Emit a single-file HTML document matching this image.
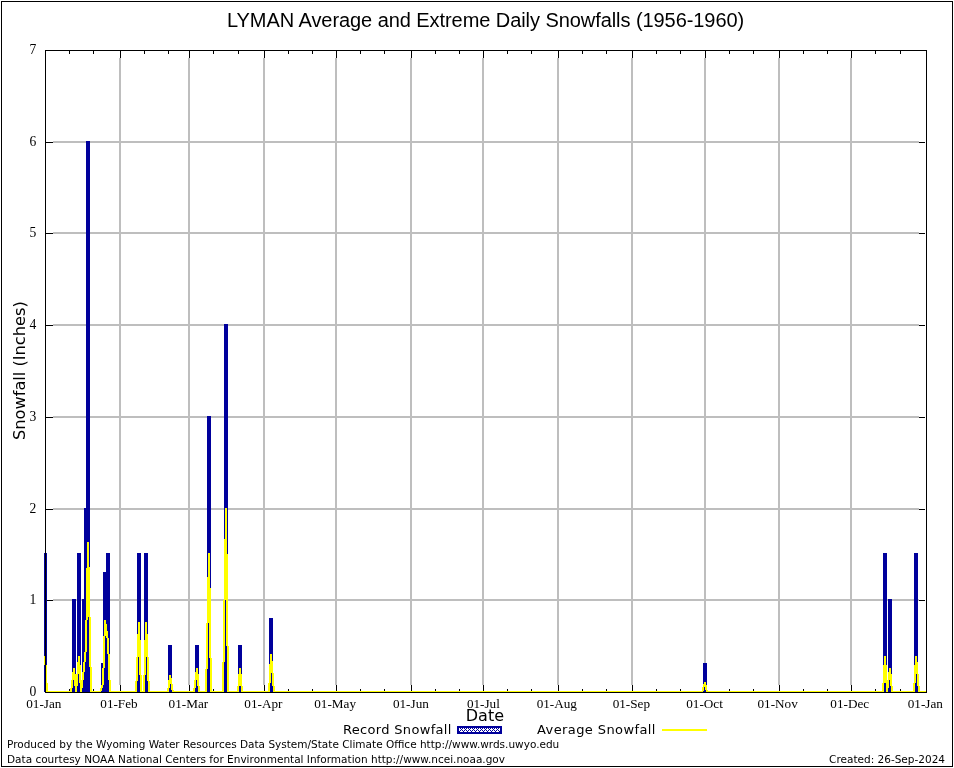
<!DOCTYPE html><html><head><meta charset="utf-8"><title>LYMAN Average and Extreme Daily Snowfalls (1956-1960)</title><style>html,body{margin:0;padding:0;background:#fff;width:954px;height:768px;overflow:hidden}svg{display:block;will-change:transform}.s{font-family:"Liberation Serif",serif}.d{font-family:"DejaVu Sans",sans-serif}</style></head><body>
<svg width="954" height="768" viewBox="0 0 954 768">
<defs><pattern id="hatch" x="1" y="1" width="4" height="4" patternUnits="userSpaceOnUse"><rect x="0" y="0" width="1" height="1" fill="#00009c"/><rect x="1" y="1" width="1" height="1" fill="#00009c"/><rect x="3" y="1" width="1" height="1" fill="#00009c"/><rect x="2" y="2" width="1" height="1" fill="#00009c"/><rect x="1" y="3" width="1" height="1" fill="#00009c"/><rect x="3" y="3" width="1" height="1" fill="#00009c"/></pattern></defs>
<rect x="0" y="0" width="954" height="768" fill="#fff"/>
<g shape-rendering="crispEdges">
<rect x="1.5" y="1.5" width="951" height="765" fill="none" stroke="#000" stroke-width="1"/>
<g fill="#bebebe"><rect x="119" y="58" width="2" height="627"/><rect x="188" y="58" width="2" height="627"/><rect x="263" y="58" width="2" height="627"/><rect x="335" y="58" width="2" height="627"/><rect x="410" y="58" width="2" height="627"/><rect x="482" y="58" width="2" height="627"/><rect x="557" y="58" width="2" height="627"/><rect x="631" y="58" width="2" height="627"/><rect x="704" y="58" width="2" height="627"/><rect x="778" y="58" width="2" height="627"/><rect x="850" y="58" width="2" height="627"/><rect x="53" y="599" width="866" height="2"/><rect x="53" y="508" width="866" height="2"/><rect x="53" y="416" width="866" height="2"/><rect x="53" y="324" width="866" height="2"/><rect x="53" y="232" width="866" height="2"/><rect x="53" y="141" width="866" height="2"/></g>
<g fill="#000"><rect x="45" y="692" width="8" height="1"/><rect x="919" y="692" width="6" height="1"/><rect x="45" y="600" width="8" height="1"/><rect x="919" y="600" width="6" height="1"/><rect x="45" y="509" width="8" height="1"/><rect x="919" y="509" width="6" height="1"/><rect x="45" y="417" width="8" height="1"/><rect x="919" y="417" width="6" height="1"/><rect x="45" y="325" width="8" height="1"/><rect x="919" y="325" width="6" height="1"/><rect x="45" y="233" width="8" height="1"/><rect x="919" y="233" width="6" height="1"/><rect x="45" y="142" width="8" height="1"/><rect x="919" y="142" width="6" height="1"/><rect x="45" y="50" width="8" height="1"/><rect x="919" y="50" width="6" height="1"/><rect x="45" y="685" width="1" height="8"/><rect x="45" y="50" width="1" height="8"/><rect x="69" y="689" width="1" height="4"/><rect x="69" y="50" width="1" height="4"/><rect x="93" y="689" width="1" height="4"/><rect x="93" y="50" width="1" height="4"/><rect x="120" y="685" width="1" height="8"/><rect x="120" y="50" width="1" height="8"/><rect x="144" y="689" width="1" height="4"/><rect x="144" y="50" width="1" height="4"/><rect x="168" y="689" width="1" height="4"/><rect x="168" y="50" width="1" height="4"/><rect x="189" y="685" width="1" height="8"/><rect x="189" y="50" width="1" height="8"/><rect x="213" y="689" width="1" height="4"/><rect x="213" y="50" width="1" height="4"/><rect x="238" y="689" width="1" height="4"/><rect x="238" y="50" width="1" height="4"/><rect x="264" y="685" width="1" height="8"/><rect x="264" y="50" width="1" height="8"/><rect x="288" y="689" width="1" height="4"/><rect x="288" y="50" width="1" height="4"/><rect x="312" y="689" width="1" height="4"/><rect x="312" y="50" width="1" height="4"/><rect x="336" y="685" width="1" height="8"/><rect x="336" y="50" width="1" height="8"/><rect x="360" y="689" width="1" height="4"/><rect x="360" y="50" width="1" height="4"/><rect x="384" y="689" width="1" height="4"/><rect x="384" y="50" width="1" height="4"/><rect x="411" y="685" width="1" height="8"/><rect x="411" y="50" width="1" height="8"/><rect x="435" y="689" width="1" height="4"/><rect x="435" y="50" width="1" height="4"/><rect x="459" y="689" width="1" height="4"/><rect x="459" y="50" width="1" height="4"/><rect x="483" y="685" width="1" height="8"/><rect x="483" y="50" width="1" height="8"/><rect x="507" y="689" width="1" height="4"/><rect x="507" y="50" width="1" height="4"/><rect x="531" y="689" width="1" height="4"/><rect x="531" y="50" width="1" height="4"/><rect x="558" y="685" width="1" height="8"/><rect x="558" y="50" width="1" height="8"/><rect x="582" y="689" width="1" height="4"/><rect x="582" y="50" width="1" height="4"/><rect x="606" y="689" width="1" height="4"/><rect x="606" y="50" width="1" height="4"/><rect x="632" y="685" width="1" height="8"/><rect x="632" y="50" width="1" height="8"/><rect x="656" y="689" width="1" height="4"/><rect x="656" y="50" width="1" height="4"/><rect x="680" y="689" width="1" height="4"/><rect x="680" y="50" width="1" height="4"/><rect x="705" y="685" width="1" height="8"/><rect x="705" y="50" width="1" height="8"/><rect x="729" y="689" width="1" height="4"/><rect x="729" y="50" width="1" height="4"/><rect x="753" y="689" width="1" height="4"/><rect x="753" y="50" width="1" height="4"/><rect x="779" y="685" width="1" height="8"/><rect x="779" y="50" width="1" height="8"/><rect x="803" y="689" width="1" height="4"/><rect x="803" y="50" width="1" height="4"/><rect x="827" y="689" width="1" height="4"/><rect x="827" y="50" width="1" height="4"/><rect x="851" y="685" width="1" height="8"/><rect x="851" y="50" width="1" height="8"/><rect x="875" y="689" width="1" height="4"/><rect x="875" y="50" width="1" height="4"/><rect x="900" y="689" width="1" height="4"/><rect x="900" y="50" width="1" height="4"/><rect x="926" y="685" width="1" height="8"/><rect x="926" y="50" width="1" height="8"/></g>
<g fill="#00009c"><rect x="44" y="553" width="3" height="139"/><rect x="72" y="599" width="4" height="93"/><rect x="77" y="553" width="4" height="139"/><rect x="82" y="599" width="4" height="93"/><rect x="84" y="508" width="4" height="184"/><rect x="86" y="141" width="4" height="551"/><rect x="101" y="663" width="4" height="29"/><rect x="103" y="572" width="4" height="120"/><rect x="106" y="553" width="4" height="139"/><rect x="137" y="553" width="4" height="139"/><rect x="144" y="553" width="4" height="139"/><rect x="168" y="645" width="4" height="47"/><rect x="195" y="645" width="4" height="47"/><rect x="207" y="416" width="4" height="276"/><rect x="224" y="324" width="4" height="368"/><rect x="238" y="645" width="4" height="47"/><rect x="269" y="618" width="4" height="74"/><rect x="703" y="663" width="4" height="29"/><rect x="883" y="553" width="4" height="139"/><rect x="888" y="599" width="4" height="93"/><rect x="914" y="553" width="4" height="139"/></g>
<g fill="#ffff00"><rect x="225" y="508" width="2" height="31"/><rect x="224" y="539" width="3" height="15"/><rect x="87" y="542" width="2" height="25"/><rect x="87" y="567" width="3" height="1"/><rect x="208" y="553" width="2" height="24"/><rect x="207" y="577" width="3" height="11"/><rect x="224" y="554" width="4" height="46"/><rect x="86" y="568" width="4" height="49"/><rect x="86" y="617" width="2" height="3"/><rect x="207" y="588" width="4" height="35"/><rect x="104" y="620" width="2" height="4"/><rect x="104" y="624" width="3" height="7"/><rect x="145" y="622" width="2" height="12"/><rect x="138" y="622" width="2" height="12"/><rect x="104" y="631" width="4" height="5"/><rect x="106" y="636" width="2" height="2"/><rect x="145" y="634" width="3" height="6"/><rect x="137" y="634" width="3" height="6"/><rect x="226" y="600" width="2" height="46"/><rect x="85" y="620" width="2" height="32"/><rect x="107" y="638" width="2" height="16"/><rect x="144" y="640" width="4" height="17"/><rect x="137" y="640" width="4" height="17"/><rect x="209" y="623" width="2" height="35"/><rect x="270" y="654" width="2" height="7"/><rect x="223" y="600" width="2" height="62"/><rect x="84" y="652" width="2" height="10"/><rect x="78" y="656" width="2" height="6"/><rect x="915" y="656" width="2" height="6"/><rect x="270" y="661" width="3" height="3"/><rect x="44" y="656" width="2" height="9"/><rect x="884" y="656" width="2" height="9"/><rect x="915" y="662" width="3" height="3"/><rect x="77" y="662" width="3" height="3"/><rect x="89" y="617" width="2" height="50"/><rect x="103" y="636" width="2" height="32"/><rect x="206" y="623" width="2" height="46"/><rect x="83" y="662" width="2" height="10"/><rect x="73" y="668" width="2" height="4"/><rect x="889" y="668" width="2" height="4"/><rect x="196" y="668" width="2" height="4"/><rect x="269" y="664" width="4" height="9"/><rect x="77" y="665" width="4" height="9"/><rect x="914" y="665" width="4" height="9"/><rect x="239" y="668" width="2" height="6"/><rect x="195" y="672" width="3" height="2"/><rect x="888" y="672" width="3" height="2"/><rect x="72" y="672" width="3" height="2"/><rect x="139" y="657" width="2" height="18"/><rect x="144" y="657" width="2" height="18"/><rect x="169" y="675" width="2" height="3"/><rect x="108" y="654" width="2" height="26"/><rect x="883" y="665" width="4" height="15"/><rect x="82" y="672" width="2" height="8"/><rect x="79" y="674" width="2" height="6"/><rect x="72" y="674" width="6" height="6"/><rect x="195" y="674" width="4" height="6"/><rect x="888" y="674" width="4" height="6"/><rect x="169" y="678" width="3" height="2"/><rect x="147" y="657" width="2" height="24"/><rect x="136" y="657" width="2" height="24"/><rect x="45" y="665" width="2" height="18"/><rect x="269" y="673" width="2" height="10"/><rect x="914" y="674" width="2" height="9"/><rect x="883" y="680" width="6" height="3"/><rect x="79" y="680" width="4" height="3"/><rect x="168" y="680" width="4" height="4"/><rect x="704" y="682" width="2" height="2"/><rect x="102" y="668" width="2" height="17"/><rect x="703" y="684" width="3" height="1"/><rect x="272" y="673" width="2" height="13"/><rect x="238" y="674" width="4" height="12"/><rect x="917" y="674" width="2" height="12"/><rect x="890" y="680" width="2" height="6"/><rect x="74" y="680" width="4" height="6"/><rect x="197" y="680" width="2" height="6"/><rect x="703" y="685" width="4" height="2"/><rect x="194" y="680" width="2" height="8"/><rect x="71" y="680" width="2" height="8"/><rect x="80" y="683" width="3" height="5"/><rect x="886" y="683" width="3" height="5"/><rect x="168" y="684" width="2" height="4"/><rect x="101" y="685" width="2" height="3"/><rect x="171" y="684" width="2" height="6"/><rect x="705" y="687" width="2" height="3"/><rect x="227" y="646" width="2" height="45"/><rect x="210" y="658" width="2" height="33"/><rect x="222" y="662" width="2" height="29"/><rect x="90" y="667" width="2" height="24"/><rect x="205" y="669" width="2" height="22"/><rect x="143" y="675" width="2" height="16"/><rect x="140" y="675" width="2" height="16"/><rect x="109" y="680" width="2" height="11"/><rect x="148" y="681" width="2" height="10"/><rect x="135" y="681" width="2" height="10"/><rect x="46" y="683" width="2" height="8"/><rect x="882" y="683" width="2" height="8"/><rect x="268" y="683" width="2" height="8"/><rect x="913" y="683" width="2" height="8"/><rect x="891" y="686" width="2" height="5"/><rect x="918" y="686" width="2" height="5"/><rect x="198" y="686" width="2" height="5"/><rect x="273" y="686" width="2" height="5"/><rect x="241" y="686" width="2" height="5"/><rect x="237" y="686" width="2" height="5"/><rect x="702" y="687" width="2" height="4"/><rect x="193" y="688" width="2" height="3"/><rect x="167" y="688" width="2" height="3"/><rect x="70" y="688" width="2" height="3"/><rect x="100" y="688" width="2" height="3"/><rect x="172" y="690" width="2" height="1"/><rect x="706" y="690" width="2" height="1"/><rect x="75" y="686" width="2" height="7"/><rect x="886" y="688" width="2" height="5"/><rect x="80" y="688" width="2" height="5"/><rect x="706" y="691" width="178" height="2"/><rect x="148" y="691" width="21" height="2"/><rect x="46" y="691" width="26" height="2"/><rect x="241" y="691" width="29" height="2"/><rect x="140" y="691" width="5" height="2"/><rect x="227" y="691" width="12" height="2"/><rect x="109" y="691" width="28" height="2"/><rect x="172" y="691" width="23" height="2"/><rect x="210" y="691" width="14" height="2"/><rect x="891" y="691" width="24" height="2"/><rect x="918" y="691" width="9" height="2"/><rect x="273" y="691" width="430" height="2"/><rect x="198" y="691" width="9" height="2"/><rect x="90" y="691" width="11" height="2"/></g>
<rect x="45.5" y="50.5" width="881" height="642" fill="none" stroke="#000" stroke-width="1"/>
<rect x="458" y="727" width="43" height="6" fill="url(#hatch)" stroke="#00009c" stroke-width="2"/>
<rect x="662" y="729" width="45" height="2" fill="#ffff00"/>
</g>
<g fill="#000"><text x="227.0" y="27" textLength="517.2" lengthAdjust="spacing" style="font-family:'Liberation Sans',sans-serif;font-size:20px">LYMAN Average and Extreme Daily Snowfalls (1956-1960)</text><text class="s" x="36.3" y="695.8" text-anchor="end" font-size="13.6">0</text><text class="s" x="36.3" y="603.8" text-anchor="end" font-size="13.6">1</text><text class="s" x="36.3" y="512.8" text-anchor="end" font-size="13.6">2</text><text class="s" x="36.3" y="420.8" text-anchor="end" font-size="13.6">3</text><text class="s" x="36.3" y="328.8" text-anchor="end" font-size="13.6">4</text><text class="s" x="36.3" y="236.8" text-anchor="end" font-size="13.6">5</text><text class="s" x="36.3" y="145.8" text-anchor="end" font-size="13.6">6</text><text class="s" x="36.3" y="53.8" text-anchor="end" font-size="13.6">7</text><text class="s" x="43.80" y="707.7" text-anchor="middle" font-size="13.2">01-Jan</text><text class="s" x="118.97" y="707.7" text-anchor="middle" font-size="13.2">01-Feb</text><text class="s" x="188.38" y="707.7" text-anchor="middle" font-size="13.2">01-Mar</text><text class="s" x="263.40" y="707.7" text-anchor="middle" font-size="13.2">01-Apr</text><text class="s" x="335.11" y="707.7" text-anchor="middle" font-size="13.2">01-May</text><text class="s" x="410.88" y="707.7" text-anchor="middle" font-size="13.2">01-Jun</text><text class="s" x="483.39" y="707.7" text-anchor="middle" font-size="13.2">01-Jul</text><text class="s" x="556.81" y="707.7" text-anchor="middle" font-size="13.2">01-Aug</text><text class="s" x="631.33" y="707.7" text-anchor="middle" font-size="13.2">01-Sep</text><text class="s" x="704.50" y="707.7" text-anchor="middle" font-size="13.2">01-Oct</text><text class="s" x="777.67" y="707.7" text-anchor="middle" font-size="13.2">01-Nov</text><text class="s" x="849.73" y="707.7" text-anchor="middle" font-size="13.2">01-Dec</text><text class="s" x="925.30" y="707.7" text-anchor="middle" font-size="13.2">01-Jan</text><text class="d" x="484.9" y="720.7" text-anchor="middle" font-size="16">Date</text><text class="d" transform="translate(25.2,370.6) rotate(-90)" text-anchor="middle" font-size="16.2">Snowfall (Inches)</text><text class="d" x="343" y="734" font-size="13" textLength="108.4" lengthAdjust="spacing">Record Snowfall</text><text class="d" x="537" y="734" font-size="13" textLength="118.4" lengthAdjust="spacing">Average Snowfall</text><text class="d" x="7" y="748" font-size="10.5">Produced by the Wyoming Water Resources Data System/State Climate Office http://www.wrds.uwyo.edu</text><text class="d" x="7" y="762.7" font-size="10.5">Data courtesy NOAA National Centers for Environmental Information http://www.ncei.noaa.gov</text><text class="d" x="945" y="762.7" font-size="10.5" text-anchor="end">Created: 26-Sep-2024</text></g>
</svg></body></html>
